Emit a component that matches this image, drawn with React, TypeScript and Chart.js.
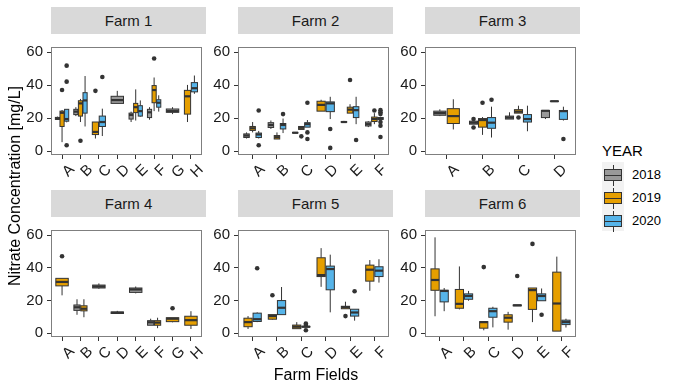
import React, { useEffect, useRef } from "react";
import { Chart, registerables } from "chart.js";

Chart.register(...registerables);

// ---------- data ----------
const YEARS = ["2018", "2019", "2020"];
const YEAR_FILLS = ["#999999", "#E69F00", "#56B4E9"];

const FIELDS_AH = ["A", "B", "C", "D", "E", "F", "G", "H"];
const FIELDS_AF = ["A", "B", "C", "D", "E", "F"];
const FIELDS_AD = ["A", "B", "C", "D"];
const Y_TICKS = [0, 20, 40, 60];

// [field, year, lowerWhisker, q1, median, q3, upperWhisker, outliers]
type Row = [string, string, number, number, number, number, number, number[]];

const FARM1_BOXES: Row[] = [
  ["A", "2018", 19, 19.3, 19.8, 20.5, 21, []],
  ["A", "2019", 5.5, 15, 23.3, 24.3, 25, [37.1]],
  ["A", "2020", 17.5, 18.2, 19.5, 25.4, 25.4, [51.9, 42.2, 3.6]],
  ["B", "2018", 21.3, 22.2, 24, 25.4, 26.7, []],
  ["B", "2019", 17.7, 21.3, 29, 30.6, 31.7, [6.3]],
  ["B", "2020", 15, 23.1, 30.8, 35.5, 45.6, []],
  ["C", "2019", 7.7, 10.1, 11.7, 17.7, 17.7, [36.6]],
  ["C", "2020", 9.2, 15, 17.7, 21.3, 25.8, [45]],
  ["D", "2018", 29, 29, 31, 33.3, 36.6, []],
  ["E", "2018", 17.7, 19.5, 22, 23.1, 24, []],
  ["E", "2019", 18.6, 23.4, 26.7, 29, 37.5, []],
  ["E", "2020", 20.9, 21.3, 24.3, 27.6, 30.8, []],
  ["F", "2018", 19.1, 20.4, 23.6, 25.4, 26.7, []],
  ["F", "2019", 24.3, 29.4, 37.1, 39.8, 44.7, [56.2]],
  ["F", "2020", 24, 26.7, 29.4, 31.2, 33.9, []],
  ["G", "2018", 22.5, 23.6, 24.3, 25.6, 26.7, []],
  ["H", "2019", 17.7, 22.5, 33.3, 36.9, 40.2, []],
  ["H", "2020", 34.8, 36, 38.2, 41.6, 45.9, []],
];

const FARM2_BOXES: Row[] = [
  ["A", "2018", 7.7, 8.3, 9.5, 10.5, 11.4, []],
  ["A", "2019", 11.4, 12.6, 13.9, 15, 17.7, []],
  ["A", "2020", 7.7, 8.3, 10.1, 11, 12.3, [24.7, 3.6]],
  ["B", "2018", 13.5, 14.4, 15.9, 17.3, 18.6, []],
  ["B", "2019", 7.4, 7.4, 8.5, 9.5, 11.4, []],
  ["B", "2020", 11, 13.5, 15.9, 16.8, 19.8, [22.5]],
  ["C", "2018", 11, 11, 11.2, 11.4, 11.4, []],
  ["C", "2019", 13.2, 13.2, 14.2, 15, 15, [9]],
  ["C", "2020", 14.6, 14.6, 16.4, 17.3, 18.9, [29.4, 11.4, 7.4]],
  ["D", "2019", 24.3, 24.3, 28.1, 30.3, 31.2, []],
  ["D", "2020", 19.5, 24, 29, 29.9, 33, [13.5, 2]],
  ["E", "2018", 17.5, 17.5, 17.7, 18, 18.4, []],
  ["E", "2019", 23.1, 23.1, 25.2, 26.7, 28.5, [43.2]],
  ["E", "2020", 16.4, 20.4, 24.9, 27, 33, [6.8]],
  ["F", "2018", 14.6, 15.3, 16.4, 17.7, 18.2, []],
  ["F", "2019", 16.4, 18, 19.5, 20.7, 23.1, [24.7]],
  ["F", "2020", 19.3, 19.3, 19.8, 20.4, 20.4, [24.9, 23.6, 22.5, 17.7, 15.5, 8.6]],
];

const FARM3_BOXES: Row[] = [
  ["A", "2018", 21.3, 21.8, 23.1, 24.3, 25.4, []],
  ["A", "2019", 13.2, 16.8, 21.3, 25.8, 31.5, []],
  ["B", "2018", 16.4, 16.4, 17.3, 18.2, 18.2, [19.5, 14.4]],
  ["B", "2019", 9.9, 14.6, 18.9, 19.8, 20.7, [29.4]],
  ["B", "2020", 8.3, 13.9, 17.3, 20.4, 27, [31.2]],
  ["C", "2018", 19.5, 19.5, 20.4, 21.3, 23.6, []],
  ["C", "2019", 23.1, 23.1, 24, 25.2, 27.6, [20.4]],
  ["C", "2020", 12.1, 17.7, 19.5, 22.2, 27.6, []],
  ["D", "2018", 19.5, 20.4, 24.5, 24.7, 24.7, []],
  ["D", "2019", 30.2, 30.2, 30.3, 30.4, 30.4, []],
  ["D", "2020", 18.6, 19.3, 24.3, 24.7, 27, [7.4]],
];

const FARM4_BOXES: Row[] = [
  ["A", "2019", 23.2, 29, 31.4, 33.6, 33.6, [47.1]],
  ["B", "2018", 11.3, 14, 15.9, 17.3, 20.8, []],
  ["B", "2019", 9.8, 13.7, 15, 16.8, 20.8, []],
  ["C", "2018", 27.2, 27.7, 28.6, 29.5, 30.5, []],
  ["D", "2018", 12, 12.1, 12.6, 13, 13.7, []],
  ["E", "2018", 24.4, 25, 26.8, 27.7, 28.6, []],
  ["F", "2018", 4.9, 4.9, 6.7, 7.7, 8.9, []],
  ["F", "2019", 3.1, 4.9, 6.5, 7.7, 9.5, []],
  ["G", "2019", 6.7, 7.1, 8.9, 9.5, 9.5, [15.3]],
  ["H", "2019", 2.6, 4.9, 8, 10.4, 13.5, []],
];

const FARM5_BOXES: Row[] = [
  ["A", "2019", 2.6, 4, 6.8, 9.2, 10.5, []],
  ["A", "2020", 6.8, 7.2, 8.6, 12.3, 12.8, [39.8]],
  ["B", "2019", 8.3, 8.6, 10.5, 11.4, 11.4, [23.3]],
  ["B", "2020", 11.4, 11.4, 15.6, 20, 28.3, []],
  ["C", "2019", 2.8, 2.8, 4, 5, 6.8, []],
  ["C", "2020", 3.6, 3.8, 4, 4.2, 4.4, [5.9, 5.0, 1.8]],
  ["D", "2019", 28.4, 34.7, 35.6, 46.2, 52.1, []],
  ["D", "2020", 12.8, 26.6, 39.3, 41.1, 48.1, []],
  ["E", "2019", 15, 15, 16, 16.5, 19.3, [10.5]],
  ["E", "2020", 7.7, 10.5, 12.7, 14.7, 14.7, [25.7]],
  ["F", "2019", 26, 31.9, 38.9, 41.7, 44.8, []],
  ["F", "2020", 31, 34.7, 38.3, 40.7, 45.3, []],
];

const FARM6_BOXES: Row[] = [
  ["A", "2019", 10.4, 26.3, 32.6, 39.4, 58.7, []],
  ["A", "2020", 13.5, 19.2, 25.9, 26.3, 27.7, []],
  ["B", "2019", 14.6, 15.3, 18, 26.8, 40.9, []],
  ["B", "2020", 19.9, 20.8, 22.8, 24.1, 25.9, []],
  ["C", "2019", 1.8, 3.1, 6.8, 7.1, 7.1, [40.5]],
  ["C", "2020", 3.6, 9.8, 13.5, 15.3, 16.2, []],
  ["D", "2019", 2.2, 6.8, 9.5, 11.3, 13.1, []],
  ["D", "2020", 16.8, 16.8, 17.1, 17.3, 17.3, [35]],
  ["E", "2019", 6.8, 14.6, 26.4, 27.7, 27.7, [54.7]],
  ["E", "2020", 19.9, 19.9, 22.8, 24.1, 27.4, [11.3]],
  ["F", "2019", 1.3, 1.3, 18.2, 37.4, 46.9, []],
  ["F", "2020", 3.5, 5.3, 6.8, 8, 8.9, []],
];

const FARM_NAMES = ["Farm 1", "Farm 2", "Farm 3", "Farm 4", "Farm 5", "Farm 6"];
const FARM_FIELDS = [FIELDS_AH, FIELDS_AF, FIELDS_AD, FIELDS_AH, FIELDS_AF, FIELDS_AF];
const FARM_BOXES = [FARM1_BOXES, FARM2_BOXES, FARM3_BOXES, FARM4_BOXES, FARM5_BOXES, FARM6_BOXES];

// ---------- layout / style ----------
const FONT = "'Liberation Sans', Arial, Helvetica, sans-serif";
const Y_MIN = -2.3;
const Y_MAX = 63.2;
const DODGE_W = 0.75;
const PANEL_X = [51, 238, 425];
const PANEL_W = 155;
const ROW_Y = [34, 217];
const PANEL_H = [121, 120];
const STRIP_H = 27;
const YAX_W = 40;
const XAX_H = 34;
const INK = "#333333";

Chart.defaults.font.family = FONT;

type Box = {
  cx: number; w: number; year: number;
  lo: number; q1: number; med: number; q3: number; hi: number; out: number[];
};

function layoutBoxes(fields: string[], rows: Row[]): Box[] {
  const res: Box[] = [];
  fields.forEach((f, fi) => {
    const inField = rows
      .filter((r) => r[0] === f)
      .sort((a, b) => YEARS.indexOf(a[1]) - YEARS.indexOf(b[1]));
    const n = inField.length;
    inField.forEach((r, k) => {
      const slot = DODGE_W / n;
      res.push({
        cx: fi + 1 - DODGE_W / 2 + (k + 0.5) * slot,
        w: slot * 0.9,
        year: YEARS.indexOf(r[1]),
        lo: r[2], q1: r[3], med: r[4], q3: r[5], hi: r[6], out: r[7],
      });
    });
  });
  return res;
}

function makeBoxPlugin(boxes: Box[]) {
  return {
    id: "boxes",
    beforeDatasetsDraw(chart: any) {
      const { ctx } = chart;
      const xs = chart.scales.x;
      const ys = chart.scales.y;
      ctx.save();
      for (const b of boxes) {
        const cx = xs.getPixelForValue(b.cx);
        const x0 = xs.getPixelForValue(b.cx - b.w / 2);
        const x1 = xs.getPixelForValue(b.cx + b.w / 2);
        const yLo = ys.getPixelForValue(b.lo);
        const yQ1 = ys.getPixelForValue(b.q1);
        const yMed = ys.getPixelForValue(b.med);
        const yQ3 = ys.getPixelForValue(b.q3);
        const yHi = ys.getPixelForValue(b.hi);
        ctx.strokeStyle = INK;
        ctx.lineWidth = 1;
        ctx.beginPath();
        ctx.moveTo(cx, yHi);
        ctx.lineTo(cx, yQ3);
        ctx.moveTo(cx, yQ1);
        ctx.lineTo(cx, yLo);
        ctx.stroke();
        ctx.fillStyle = YEAR_FILLS[b.year];
        ctx.fillRect(x0, yQ3, x1 - x0, yQ1 - yQ3);
        ctx.strokeRect(x0, yQ3, x1 - x0, yQ1 - yQ3);
        ctx.lineWidth = 2.2;
        ctx.beginPath();
        ctx.moveTo(x0, yMed);
        ctx.lineTo(x1, yMed);
        ctx.stroke();
      }
      ctx.restore();
    },
    afterDraw(chart: any) {
      const { ctx, chartArea: a } = chart;
      ctx.save();
      ctx.strokeStyle = "#7f7f7f";
      ctx.lineWidth = 1;
      ctx.strokeRect(Math.round(a.left) + 0.5, Math.round(a.top) + 0.5,
        Math.round(a.right - a.left) - 1, Math.round(a.bottom - a.top) - 1);
      ctx.restore();
    },
  };
}

function Facet({ idx }: { idx: number }) {
  const ref = useRef<HTMLCanvasElement>(null);
  const row = Math.floor(idx / 3);
  const col = idx % 3;
  const fields = FARM_FIELDS[idx];
  const w = PANEL_W + YAX_W;
  const h = PANEL_H[row] + XAX_H;

  useEffect(() => {
    if (!ref.current) return;
    const boxes = layoutBoxes(fields, FARM_BOXES[idx]);
    const outliers = boxes.flatMap((b) => b.out.map((v) => ({ x: b.cx, y: v })));
    const tickFont = { size: 15, family: FONT };
    const chart = new Chart(ref.current, {
      type: "scatter",
      data: {
        datasets: [
          {
            data: outliers,
            pointRadius: 2.3,
            pointBackgroundColor: INK,
            pointBorderColor: INK,
            pointBorderWidth: 0,
          },
        ],
      },
      options: {
        animation: false,
        responsive: false,
        maintainAspectRatio: false,
        events: [],
        layout: { padding: 0 },
        plugins: { legend: { display: false }, tooltip: { enabled: false }, title: { display: false } },
        scales: {
          x: {
            type: "linear",
            min: 0.4,
            max: fields.length + 0.6,
            afterBuildTicks: (s: any) => {
              s.ticks = fields.map((_, i) => ({ value: i + 1 }));
            },
            afterFit: (s: any) => {
              s.height = XAX_H;
            },
            ticks: {
              autoSkip: false,
              minRotation: 45,
              maxRotation: 45,
              padding: 2,
              labelOffset: 10,
              color: "#1a1a1a",
              font: tickFont,
              callback: (v: any) => fields[Math.round(Number(v)) - 1],
            },
            grid: { drawOnChartArea: false, drawTicks: true, tickLength: 4, tickColor: INK, color: INK },
            border: { display: false },
          },
          y: {
            type: "linear",
            min: Y_MIN,
            max: Y_MAX,
            afterBuildTicks: (s: any) => {
              s.ticks = Y_TICKS.map((v) => ({ value: v }));
            },
            afterFit: (s: any) => {
              s.width = YAX_W;
            },
            ticks: { padding: 4, color: "#1a1a1a", font: tickFont },
            grid: { drawOnChartArea: false, drawTicks: true, tickLength: 4, tickColor: INK, color: INK },
            border: { display: false },
          },
        },
      } as any,
      plugins: [makeBoxPlugin(boxes)],
    });
    return () => chart.destroy();
  }, []);

  return (
    <>
      <div
        style={{
          position: "absolute",
          left: PANEL_X[col],
          top: ROW_Y[row] - STRIP_H,
          width: PANEL_W,
          height: STRIP_H,
          background: "#D9D9D9",
          color: "#1a1a1a",
          fontSize: 15,
          lineHeight: STRIP_H + "px",
          textAlign: "center",
          fontFamily: FONT,
        }}
      >
        {FARM_NAMES[idx]}
      </div>
      <canvas
        ref={ref}
        width={w}
        height={h}
        style={{ position: "absolute", left: PANEL_X[col] - YAX_W, top: ROW_Y[row], width: w, height: h }}
      />
    </>
  );
}

function LegendKey({ i }: { i: number }) {
  const cy = 175 + i * 23;
  return (
    <>
      <div style={{ position: "absolute", left: 613, top: cy - 10, width: 1, height: 21, background: INK }} />
      <div
        style={{
          position: "absolute",
          left: 604,
          top: cy - 6,
          width: 16,
          height: 10,
          background: YEAR_FILLS[i],
          border: `1px solid ${INK}`,
        }}
      />
      <div style={{ position: "absolute", left: 604, top: cy, width: 18, height: 1, background: INK }} />
      <div
        style={{
          position: "absolute",
          left: 632,
          top: cy - 8,
          height: 16,
          lineHeight: "16px",
          fontSize: 13,
          color: "#000",
          fontFamily: FONT,
        }}
      >
        {YEARS[i]}
      </div>
    </>
  );
}

export default function App() {
  return (
    <div
      style={{
        position: "fixed",
        left: 0,
        top: 0,
        width: 675,
        height: 391,
        background: "#fff",
        overflow: "hidden",
        fontFamily: FONT,
      }}
    >
      {[0, 1, 2, 3, 4, 5].map((i) => (
        <Facet key={i} idx={i} />
      ))}
      <div
        style={{
          position: "absolute",
          left: 15 - 150,
          top: 186 - 10,
          width: 300,
          height: 20,
          lineHeight: "20px",
          textAlign: "center",
          fontSize: 16,
          color: "#000",
          transform: "rotate(-90deg)",
        }}
      >
        Nitrate Concentration [mg/L]
      </div>
      <div
        style={{
          position: "absolute",
          left: 316 - 150,
          top: 365,
          width: 300,
          height: 20,
          lineHeight: "20px",
          textAlign: "center",
          fontSize: 16,
          color: "#000",
        }}
      >
        Farm Fields
      </div>
      <div
        style={{
          position: "absolute",
          left: 602,
          top: 143,
          lineHeight: "15px",
          fontSize: 15,
          color: "#000",
        }}
      >
        YEAR
      </div>
      <div style={{ position: "absolute", left: 602, top: 162, width: 22, height: 69, background: "#F2F2F2" }} />
      {[0, 1, 2].map((i) => (
        <LegendKey key={i} i={i} />
      ))}
    </div>
  );
}
